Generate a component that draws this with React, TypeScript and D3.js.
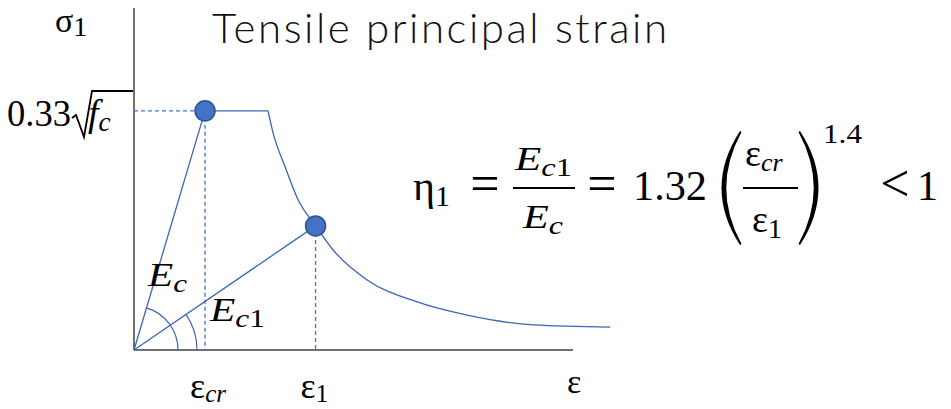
import React from "react";
import * as d3 from "d3";

const W = 951;
const H = 409;

// Strain normalised by the cracking strain, stress normalised by the tensile strength
const STRAIN_MAX = 6.18;
const STRESS_MAX = 1.43;

// Marked points: cracking point and the current principal tensile strain
const markStrain = [1.0, 2.556];
const markStress = [1.0, 0.519];
const markSub = ["cr", "1"];

// Plateau after cracking
const plateauStrain = [1.0, 1.887];

// Tension-softening branch
const softeningStrain = [1.887, 1.958, 2.127, 2.31, 2.556, 2.803, 3.282, 3.986, 4.69, 5.62, 6.704];
const softeningStress = [1.0, 0.908, 0.766, 0.628, 0.519, 0.418, 0.293, 0.201, 0.146, 0.105, 0.096];

// Angle markers for the two secant moduli (radius in px)
const arcRadii = [44, 63];

const BLUE = "#4472C4";
const LINE = "#3A66B5";
const AXIS = "#404040";
const MATH = "Liberation Serif, serif";
const SANS = "Lato, Noto Sans, sans-serif";

export default function App() {
  const x = d3.scaleLinear().domain([0, STRAIN_MAX]).range([134, 573]);
  const y = d3.scaleLinear().domain([0, STRESS_MAX]).range([350, 8]);

  const x0 = x(0);
  const y0 = y(0);

  const softening = d3
    .line<number>()
    .x((_, i) => x(softeningStrain[i]))
    .y((_, i) => y(softeningStress[i]))
    .curve(d3.curveMonotoneX)(softeningStrain);

  const arcs = markStrain.map((s, i) => {
    const dx = x(s) - x0;
    const dy = y(markStress[i]) - y0;
    const a = Math.atan2(dy, dx);
    const r = arcRadii[i];
    const p = d3.path();
    p.moveTo(x0 + r * Math.cos(a), y0 + r * Math.sin(a));
    p.arc(x0, y0, r, a, 0, false);
    return p.toString();
  });

  // large parentheses around the strain ratio
  const lp = "M740,131 Q703,188 740,245 L741.5,244 Q711,188 741.5,132 Z";
  const rp = "M800,131 Q837,188 800,245 L798.5,244 Q829,188 798.5,132 Z";

  return (
    <svg
      width={W}
      height={H}
      viewBox={`0 0 ${W} ${H}`}
      style={{ position: "absolute", left: 0, top: 0, display: "block", background: "#fff" }}
    >
      <rect width={W} height={H} fill="#fff" />

      {/* axes */}
      <line x1={x0} y1={y(STRESS_MAX)} x2={x0} y2={y0} stroke={AXIS} strokeWidth={1.5} />
      <line x1={x0} y1={y0} x2={x(STRAIN_MAX)} y2={y0} stroke={AXIS} strokeWidth={1.5} />

      {/* reference dashes */}
      <line
        x1={x0}
        y1={y(markStress[0])}
        x2={x(markStrain[0])}
        y2={y(markStress[0])}
        stroke={BLUE}
        strokeWidth={1.3}
        strokeDasharray="4 3"
      />
      {markStrain.map((s, i) => (
        <line
          key={`d${i}`}
          x1={x(s)}
          y1={y(markStress[i])}
          x2={x(s)}
          y2={y0}
          stroke={BLUE}
          strokeWidth={1.3}
          strokeDasharray="4 3"
        />
      ))}

      {/* secant moduli */}
      {markStrain.map((s, i) => (
        <line key={`s${i}`} x1={x0} y1={y0} x2={x(s)} y2={y(markStress[i])} stroke={LINE} strokeWidth={1.3} />
      ))}
      {arcs.map((d, i) => (
        <path key={`a${i}`} d={d} fill="none" stroke={LINE} strokeWidth={1.2} />
      ))}

      {/* plateau and softening */}
      <line
        x1={x(plateauStrain[0])}
        y1={y(1)}
        x2={x(plateauStrain[1])}
        y2={y(1)}
        stroke={LINE}
        strokeWidth={1.3}
      />
      <path d={softening ?? ""} fill="none" stroke={LINE} strokeWidth={1.3} />

      {markStrain.map((s, i) => (
        <circle key={`c${i}`} cx={x(s)} cy={y(markStress[i])} r={10} fill={BLUE} stroke="#2F528F" strokeWidth={1.5} />
      ))}

      {/* axis titles */}
      <text x={55} y={32} fontFamily={MATH} fontSize={34} fill="#000">
        σ<tspan fontSize={28} dy={4}>1</tspan>
      </text>
      <text x={x(STRAIN_MAX) - 6} y={393} fontFamily={MATH} fontSize={34} fill="#000">
        ε
      </text>

      {/* tensile strength label */}
      <text x={7} y={126} fontFamily={MATH} fontSize={38} fill="#000" textLength={64} lengthAdjust="spacingAndGlyphs">
        0.33
      </text>
      <path d="M72,118 L76,115 L84,137 L92,91 L133,91" fill="none" stroke="#000" strokeWidth={1.8} />
      <text x={88} y={126} fontFamily={MATH} fontSize={38} fontStyle="italic" fill="#000">
        f<tspan fontSize={27} dy={5}>c</tspan>
      </text>

      {/* strain labels */}
      {markStrain.map((s, i) => (
        <text key={`l${i}`} x={x(s) - 15} y={398} fontFamily={MATH} fontSize={36} fill="#000">
          ε
          <tspan fontSize={25} dy={4} fontStyle={i === 0 ? "italic" : "normal"}>
            {markSub[i]}
          </tspan>
        </text>
      ))}

      {/* moduli labels */}
      <text x={148} y={286} fontFamily={MATH} fontSize={33} fontStyle="italic" fill="#000" textLength={39} lengthAdjust="spacingAndGlyphs">
        E<tspan fontSize={25} dy={6}>c</tspan>
      </text>
      <text x={210} y={321} fontFamily={MATH} fontSize={33} fontStyle="italic" fill="#000" textLength={55} lengthAdjust="spacingAndGlyphs">
        E<tspan fontSize={25} dy={6}>c</tspan>
        <tspan fontSize={25} fontStyle="normal">1</tspan>
      </text>

      {/* title */}
      <text x={212} y={43} fontFamily={SANS} fontSize={42} fontWeight={300} fill="#111" textLength={455} lengthAdjust="spacing">
        Tensile principal strain
      </text>

      {/* reduction factor */}
      <g fontFamily={MATH} fill="#000">
        <text x={413} y={200} fontSize={42}>
          η<tspan fontSize={30} dy={6}>1</tspan>
        </text>
        <text x={485} y={201} fontSize={52} textAnchor="middle">=</text>
        <line x1={513} y1={188} x2={575} y2={188} stroke="#000" strokeWidth={2} />
        <text x={515} y={170} fontSize={33} fontStyle="italic" textLength={57} lengthAdjust="spacingAndGlyphs">
          E<tspan fontSize={25} dy={6}>c</tspan>
          <tspan fontSize={25} fontStyle="normal">1</tspan>
        </text>
        <text x={523} y={228} fontSize={33} fontStyle="italic" textLength={40} lengthAdjust="spacingAndGlyphs">
          E<tspan fontSize={25} dy={6}>c</tspan>
        </text>
        <text x={602} y={201} fontSize={52} textAnchor="middle">=</text>
        <text x={633} y={200} fontSize={42} textLength={74} lengthAdjust="spacingAndGlyphs">1.32</text>
        <path d={lp} fill="#000" />
        <line x1={743} y1={188} x2={798} y2={188} stroke="#000" strokeWidth={2} />
        <text x={745} y={166} fontSize={38}>
          ε<tspan fontSize={26} dy={5} fontStyle="italic">cr</tspan>
        </text>
        <text x={752} y={232} fontSize={38}>
          ε<tspan fontSize={28} dy={6}>1</tspan>
        </text>
        <path d={rp} fill="#000" />
        <text x={823} y={143} fontSize={28} textLength={39} lengthAdjust="spacingAndGlyphs">1.4</text>
        <text x={895} y={201} fontSize={52} textAnchor="middle">&lt;</text>
        <text x={917} y={200} fontSize={42}>1</text>
      </g>
    </svg>
  );
}
